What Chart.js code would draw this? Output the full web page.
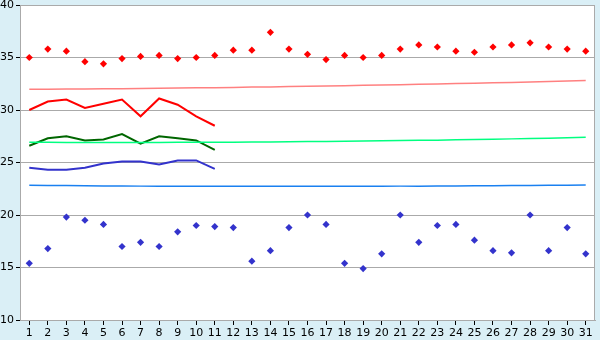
<!DOCTYPE html>
<html>
<head>
<meta charset="utf-8">
<script src="https://cdn.jsdelivr.net/npm/chart.js@4.4.1/dist/chart.umd.min.js"></script>
<style>
  html, body { margin: 0; padding: 0; background: #daeff6; }
  #wrap { width: 600px; height: 340px; }
</style>
</head>
<body>
<div id="wrap"><canvas id="chart" width="600" height="340"></canvas></div>
<script>
// days of the month
const days = Array.from({ length: 31 }, (_, i) => String(i + 1));

// daily maxima / minima (diamonds)
const maxTemps = [35.0, 35.8, 35.6, 34.6, 34.4, 34.9, 35.1, 35.2, 34.9, 35.0, 35.2,
  35.7, 35.7, 37.4, 35.8, 35.3, 34.8, 35.2, 35.0, 35.2, 35.8, 36.2, 36.0, 35.6,
  35.5, 36.0, 36.2, 36.4, 36.0, 35.8, 35.6];
const minTemps = [15.4, 16.8, 19.8, 19.5, 19.1, 17.0, 17.4, 17.0, 18.4, 19.0, 18.9,
  18.8, 15.6, 16.6, 18.8, 20.0, 19.1, 15.4, 14.9, 16.3, 20.0, 17.4, 19.0, 19.1,
  17.6, 16.6, 16.4, 20.0, 16.6, 18.8, 16.3];

// running lines, first 11 days only
const maxLine = [30.0, 30.8, 31.0, 30.2, 30.6, 31.0, 29.4, 31.1, 30.5, 29.4, 28.5];
const meanLine = [26.6, 27.3, 27.5, 27.1, 27.2, 27.7, 26.8, 27.5, 27.3, 27.1, 26.2];
const minLine = [24.5, 24.3, 24.3, 24.5, 24.9, 25.1, 25.1, 24.8, 25.2, 25.2, 24.4];

// normals
const normalMax = [31.97, 31.98, 31.99, 32.00, 32.02, 32.03, 32.05, 32.07, 32.09, 32.11,
  32.13, 32.15, 32.18, 32.20, 32.23, 32.26, 32.29, 32.32, 32.35, 32.38, 32.41,
  32.45, 32.48, 32.52, 32.55, 32.59, 32.63, 32.67, 32.71, 32.76, 32.81];
const normalMean = [26.92, 26.92, 26.91, 26.91, 26.91, 26.91, 26.91, 26.91, 26.92, 26.92,
  26.93, 26.94, 26.95, 26.96, 26.98, 26.99, 27.01, 27.03, 27.05, 27.07, 27.09,
  27.11, 27.13, 27.16, 27.19, 27.22, 27.25, 27.28, 27.32, 27.36, 27.41];
const normalMin = [22.84, 22.82, 22.80, 22.78, 22.77, 22.76, 22.75, 22.74, 22.74, 22.73,
  22.73, 22.73, 22.73, 22.73, 22.73, 22.73, 22.73, 22.73, 22.74, 22.74, 22.75,
  22.75, 22.76, 22.77, 22.78, 22.79, 22.80, 22.81, 22.83, 22.84, 22.86];

const yTicks = [10, 15, 20, 25, 30, 35, 40];

// white plot area with grey frame
const plotFrame = {
  id: "plotFrame",
  beforeDraw(chart) {
    const { ctx, chartArea: a } = chart;
    ctx.save();
    ctx.fillStyle = "#ffffff";
    ctx.fillRect(a.left, a.top, a.right - a.left, a.bottom - a.top);
    ctx.restore();
  },
  afterDraw(chart) {
    const { ctx, chartArea: a } = chart;
    ctx.save();
    ctx.strokeStyle = "#aaaaaa";
    ctx.lineWidth = 1;
    ctx.strokeRect(a.left + 0.5, a.top + 0.5, a.right - a.left - 1, a.bottom - a.top);
    ctx.restore();
  },
};

const lineSet = (data, color, width) => ({
  data,
  borderColor: color,
  backgroundColor: color,
  borderWidth: width,
  pointRadius: 0,
  fill: false,
  tension: 0,
});

const dotSet = (data, color) => ({
  data,
  showLine: false,
  borderColor: color,
  backgroundColor: color,
  pointStyle: "rectRot",
  pointRadius: 3.6,
  pointBorderWidth: 0,
});

new Chart(document.getElementById("chart"), {
  type: "line",
  data: {
    labels: days,
    datasets: [
      lineSet(normalMax, "#ff8080", 1.5),
      lineSet(normalMean, "#00ff80", 1.5),
      lineSet(normalMin, "#1a80f0", 1.5),
      lineSet(maxLine, "#ff0000", 2),
      lineSet(meanLine, "#006600", 2),
      lineSet(minLine, "#3333cc", 2),
      dotSet(maxTemps, "#ff0000"),
      dotSet(minTemps, "#3333cc"),
    ],
  },
  plugins: [plotFrame],
  options: {
    responsive: false,
    animation: false,
    layout: { padding: { top: 5, right: 5, left: 0, bottom: 0 } },
    plugins: { legend: { display: false }, tooltip: { enabled: false } },
    scales: {
      x: {
        offset: true,
        grid: {
          offset: false,
          drawOnChartArea: false,
          drawTicks: true,
          tickLength: 5,
          tickColor: "#000000",
        },
        border: { color: "#aaaaaa" },
        ticks: {
          color: "#000000",
          font: { family: "DejaVu Sans", size: 11 },
          padding: 2,
          maxRotation: 0,
          autoSkip: false,
        },
        afterFit(scale) {
          scale.height = 20;
          scale.paddingLeft = 0;
          scale.paddingRight = 0;
        },
      },
      y: {
        min: 10,
        max: 40,
        afterBuildTicks(scale) { scale.ticks = yTicks.map((v) => ({ value: v })); },
        grid: {
          color: "#aaaaaa",
          tickColor: "#000000",
          tickLength: 4,
        },
        border: { color: "#aaaaaa" },
        ticks: {
          color: "#000000",
          font: { family: "DejaVu Sans", size: 11 },
          padding: 2,
        },
        afterFit(scale) {
          scale.width = 20;
          scale.paddingTop = 0;
          scale.paddingBottom = 0;
        },
      },
    },
  },
});
</script>
</body>
</html>
